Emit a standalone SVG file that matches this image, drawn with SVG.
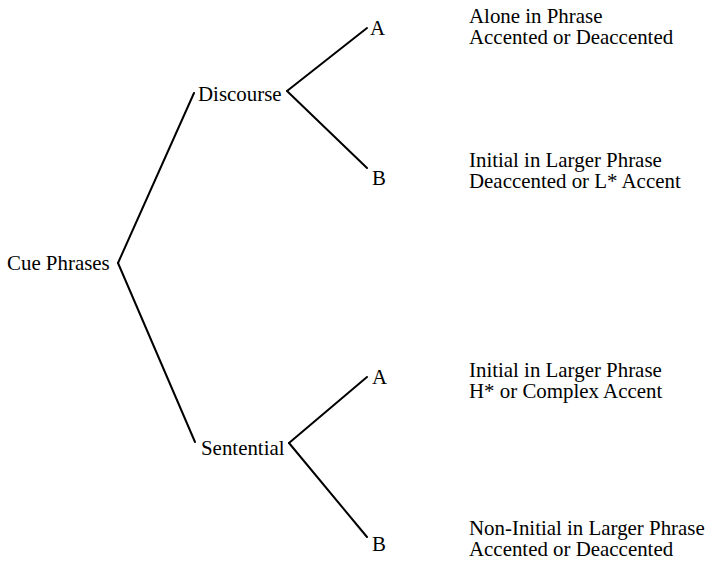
<svg xmlns="http://www.w3.org/2000/svg" width="708" height="566" viewBox="0 0 708 566">
<style>
text{font-family:"Liberation Serif","Times New Roman",serif;font-size:20.9px;fill:#000}
.c line{stroke:#000;stroke-width:2;stroke-linecap:round}
</style>
<rect width="708" height="566" fill="#fff"/>
<g class="c" id="connectors">
<line x1="118" y1="263" x2="194" y2="93"/>
<line x1="118" y1="263" x2="195" y2="442"/>
<line x1="287" y1="91" x2="367" y2="28"/>
<line x1="287" y1="91" x2="367" y2="168"/>
<line x1="289" y1="443" x2="367" y2="377"/>
<line x1="289" y1="443" x2="367" y2="537"/>
</g>
<g id="cue"><text x="7" y="270">Cue Phrases</text></g>
<g id="discourse"><text x="198" y="101">Discourse</text></g>
<g id="sentential"><text x="201" y="455">Sentential</text></g>
<g id="dA"><text x="370" y="35">A</text></g>
<g id="dB"><text x="372" y="185">B</text></g>
<g id="sA"><text x="372" y="384">A</text></g>
<g id="sB"><text x="372" y="551">B</text></g>
<g id="dA-label"><text x="469" y="23">Alone in Phrase</text><text x="469" y="44">Accented or Deaccented</text></g>
<g id="dB-label"><text x="469" y="167">Initial in Larger Phrase</text><text x="469" y="188">Deaccented or L* Accent</text></g>
<g id="sA-label"><text x="469" y="377">Initial in Larger Phrase</text><text x="469" y="398">H* or Complex Accent</text></g>
<g id="sB-label"><text x="469" y="535">Non-Initial in Larger Phrase</text><text x="469" y="556">Accented or Deaccented</text></g>
</svg>
